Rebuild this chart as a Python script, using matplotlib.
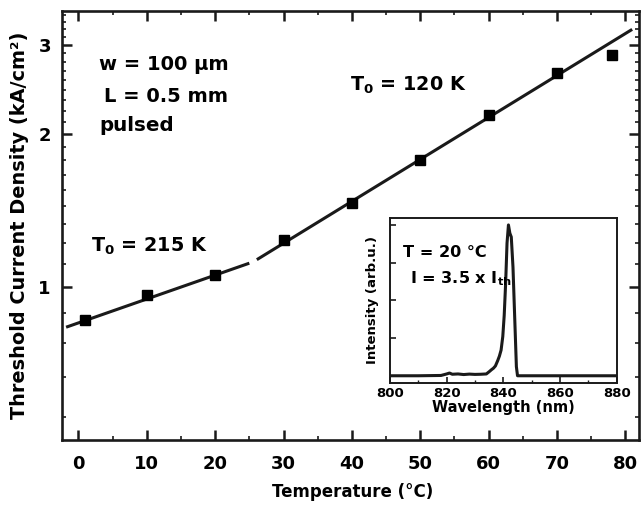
import numpy as np
import matplotlib
matplotlib.use("Agg")
import matplotlib.pyplot as plt
from matplotlib.ticker import FixedLocator, NullFormatter, FixedFormatter, MultipleLocator

plt.rcParams['font.family'] = ['DejaVu Sans']
plt.rcParams['font.weight'] = 'bold'
plt.rcParams['mathtext.fontset'] = 'custom'
plt.rcParams['mathtext.rm'] = 'DejaVu Sans:bold'
plt.rcParams['mathtext.it'] = 'DejaVu Sans:bold'
plt.rcParams['mathtext.bf'] = 'DejaVu Sans:bold'

# ---- main data ----
temperature = [1, 10, 20, 30, 40, 50, 60, 70, 78]
jth = [0.862, 0.963, 1.055, 1.240, 1.467, 1.778, 2.18, 2.646, 2.873]

fit1_t = [-1.8, 25.0]
fit1_j = [0.834, 1.115]
fit2_t = [26.1, 81.0]
fit2_j = [1.133, 3.22]

ytick_vals = [1, 2, 3]
ytick_labels = ['1', '2', '3']
xtick_vals = [0, 10, 20, 30, 40, 50, 60, 70, 80]

# ---- inset spectrum ----
wavelength = [800, 810, 818, 820, 821, 822, 824, 826, 828, 830, 832, 834, 835,
              835.8, 836.5, 837.2, 838, 838.6, 839.2, 839.8, 840.3, 840.8, 841.3,
              841.8, 842.3, 842.8, 843.4, 844.0, 844.6, 845.0, 850, 860, 870, 880]
intensity = [0.0, 0.0, 0.002, 0.012, 0.018, 0.010, 0.012, 0.008, 0.011, 0.009, 0.010,
             0.012, 0.027, 0.040, 0.050, 0.065, 0.100, 0.130, 0.170, 0.260, 0.400,
             0.610, 0.880, 1.000, 0.945, 0.920, 0.720, 0.390, 0.060, 0.0, 0.0, 0.0,
             0.0, 0.0]
inset_xticks = [800, 820, 840, 860, 880]

dark = '#1a1a1a'

fig = plt.figure(figsize=(6.44, 5.07), dpi=100)
ax = fig.add_axes([62/644, 1-440/507, (639-62)/644, (440-11)/507])

ax.plot(fit1_t, fit1_j, color=dark, lw=2.2, solid_capstyle='butt')
ax.plot(fit2_t, fit2_j, color=dark, lw=2.2, solid_capstyle='butt')
ax.plot(temperature, jth, ls='none', marker='s', ms=7, color='black')

ax.set_yscale('log')
ax.set_xlim(-2.4, 82.0)
ax.set_ylim(0.5, 3.5)

ax.yaxis.set_major_locator(FixedLocator(ytick_vals))
ax.yaxis.set_major_formatter(FixedFormatter(ytick_labels))
minor = []
for k in range(0, 4):
    for j in range(1, 9):
        v = k + j/9
        if 0.5 < v < 3.5:
            minor.append(v)
ax.yaxis.set_minor_locator(FixedLocator(minor))
ax.yaxis.set_minor_formatter(NullFormatter())

ax.xaxis.set_major_locator(FixedLocator(xtick_vals))
ax.xaxis.set_minor_locator(MultipleLocator(5))

for s in ax.spines.values():
    s.set_linewidth(1.9)
    s.set_color(dark)
ax.tick_params(which='both', direction='in', top=True, right=True, color=dark)
ax.tick_params(which='major', length=7, width=1.8, labelsize=13, pad=11)
ax.tick_params(which='minor', length=3.2, width=1.2)
ax.tick_params(axis='y', which='major', pad=8)

ax.set_xlabel('Temperature (°C)', fontsize=12, fontweight='bold')
ax.xaxis.set_label_coords(0.503, -0.1)
ax.set_ylabel('Threshold Current Density (kA/cm²)', fontsize=13.9, fontweight='bold')
ax.yaxis.set_label_coords(-0.058, 0.5)

ax.text(3.03, 2.676, 'w = 100 µm', fontsize=14, fontweight='bold', va='baseline', ha='left')
ax.text(3.76, 2.317, 'L = 0.5 mm', fontsize=14, fontweight='bold', va='baseline', ha='left')
ax.text(3.03, 2.031, 'pulsed', fontsize=14.3, fontweight='bold', va='baseline', ha='left')
ax.text(1.86, 1.176, r'T$_{\mathrm{0}}$ = 215 K', fontsize=13.8, fontweight='bold', va='baseline', ha='left')
ax.text(39.7, 2.438, r'T$_{\mathrm{0}}$ = 120 K', fontsize=13.8, fontweight='bold', va='baseline', ha='left')

# ---- inset ----
ins = fig.add_axes([390/644, 1-382.7/507, (616.7-390)/644, (382.7-217.7)/507])
ins.plot(wavelength, intensity, color=dark, lw=2.2)
ins.set_xlim(800, 880)
ins.set_ylim(-0.046, 1.048)
ins.xaxis.set_major_locator(FixedLocator(inset_xticks))
ins.xaxis.set_minor_locator(MultipleLocator(10))
ins.yaxis.set_major_locator(FixedLocator([0, 0.25, 0.5, 0.75, 1.0]))
ins.yaxis.set_major_formatter(NullFormatter())
for s in ins.spines.values():
    s.set_linewidth(1.4)
    s.set_color(dark)
ins.tick_params(which='both', direction='in', color=dark)
ins.tick_params(which='major', length=4, width=1.2, labelsize=9.5, pad=3)
ins.tick_params(which='minor', length=2.5, width=1.0)
ins.set_xlabel('Wavelength (nm)', fontsize=10.5, fontweight='bold', labelpad=0)
ins.set_ylabel('Intensity (arb.u.)', fontsize=9.5, fontweight='bold', labelpad=5)
ins.text(804.6, 0.79, 'T = 20 °C', fontsize=11.6, fontweight='bold', va='baseline', ha='left')
ins.text(807.0, 0.613, r'I = 3.5 x I$_{\mathrm{th}}$', fontsize=11.6, fontweight='bold', va='baseline', ha='left')

fig.savefig('out.png', dpi=100)
